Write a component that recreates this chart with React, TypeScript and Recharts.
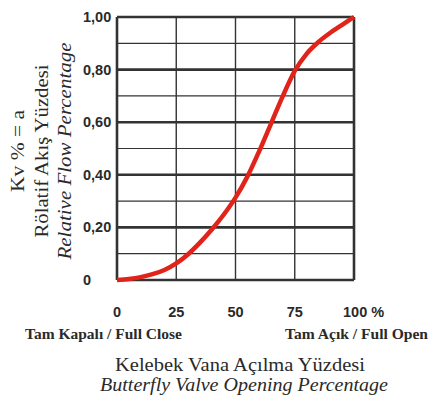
import React from 'react';
import { LineChart, Line, XAxis, YAxis, ReferenceLine } from 'recharts';

const openingPct = [0, 5, 10, 15, 20, 25, 30, 35, 40, 45, 50, 55, 60, 65, 70, 75, 80, 85, 90, 95, 100];
const flowValues = [0, 0.004, 0.011, 0.022, 0.038, 0.063, 0.098, 0.142, 0.192, 0.248, 0.313, 0.393, 0.49, 0.595, 0.7, 0.795, 0.86, 0.905, 0.94, 0.97, 1.0];

const xTicks = [0, 25, 50, 75, 100];
const xTickLabels = ['0', '25', '50', '75', '100 %'];
const yTicks = [0, 0.2, 0.4, 0.6, 0.8, 1.0];
const yTickLabels = ['0', '0,20', '0,40', '0,60', '0,80', '1,00'];
const thinGridY = [0.1, 0.3, 0.5, 0.7, 0.9];
const thickGridY = [0.2, 0.4, 0.6, 0.8];
const gridX = [25, 50, 75];
const frameX = [0, 100];
const frameY = [0, 1];

const yTitleLines = ['Kv % = a', 'Rölatif Akış Yüzdesi', 'Relative Flow Percentage'];
const closeLabel = 'Tam Kapalı / Full Close';
const openLabel = 'Tam Açık / Full Open';
const xTitle = 'Kelebek Vana Açılma Yüzdesi';
const xTitleEn = 'Butterfly Valve Opening Percentage';

const data = openingPct.map((p, i) => ({ pct: p, flow: flowValues[i] }));

const TEXT = '#2a2a2a';
const GRID = '#333333';
const SANS = '"Liberation Sans", Arial, sans-serif';
const SERIF = '"Liberation Serif", "Times New Roman", serif';

const YTick = (props: any) => {
  const { x, y, payload } = props;
  const idx = yTicks.indexOf(payload.value);
  return (
    <text x={x - 34} y={y} dy={5} textAnchor="start" fontFamily={SANS} fontWeight="bold" fontSize={14.5} fill={TEXT}>
      {yTickLabels[idx]}
    </text>
  );
};

const XTick = (props: any) => {
  const { x, y, payload } = props;
  const idx = xTicks.indexOf(payload.value);
  const isLast = idx === xTicks.length - 1;
  return (
    <text x={isLast ? x - 11 : x} y={y + 37} textAnchor={isLast ? 'start' : 'middle'} fontFamily={SANS} fontWeight="bold" fontSize={14.5} fill={TEXT}>
      {xTickLabels[idx]}
    </text>
  );
};

const yTitleX = [17, 41, 64];
const yTitleLen = [82, 173, 217];

export default function App() {
  return (
    <div style={{ position: 'absolute', left: 0, top: 0, width: 430, height: 404, background: '#fff' }}>
      <LineChart width={430} height={404} data={data} margin={{ top: 17, right: 76, bottom: 84, left: 77 }}>
        <XAxis dataKey="pct" type="number" domain={[0, 100]} ticks={xTicks} tick={<XTick />} tickLine={false} axisLine={false} tickSize={0} tickMargin={0} height={40} interval={0} />
        <YAxis type="number" domain={[0, 1]} ticks={yTicks} tick={<YTick />} tickLine={false} axisLine={false} tickSize={0} tickMargin={0} width={40} interval={0} />
        {thinGridY.map((v) => (
          <ReferenceLine key={'ty' + v} y={v} stroke={GRID} strokeWidth={1.2} ifOverflow="visible" />
        ))}
        {gridX.map((v) => (
          <ReferenceLine key={'gx' + v} x={v} stroke={GRID} strokeWidth={1.4} ifOverflow="visible" />
        ))}
        {thickGridY.map((v) => (
          <ReferenceLine key={'ky' + v} y={v} stroke={GRID} strokeWidth={2.6} ifOverflow="visible" />
        ))}
        {frameX.map((v) => (
          <ReferenceLine key={'fx' + v} x={v} stroke={GRID} strokeWidth={2.6} ifOverflow="visible" />
        ))}
        {frameY.map((v) => (
          <ReferenceLine key={'fy' + v} y={v} stroke={GRID} strokeWidth={2.6} ifOverflow="visible" />
        ))}
        <Line type="monotone" dataKey="flow" stroke="#e2231a" strokeWidth={4.5} dot={false} isAnimationActive={false} />
      </LineChart>
      <svg width={430} height={404} style={{ position: 'absolute', left: 0, top: 0, pointerEvents: 'none' }}>
        {yTitleLines.map((t, i) => (
          <text key={t} x={0} y={0} transform={`translate(${yTitleX[i]},151) rotate(-90)`} textAnchor="middle" dominantBaseline="central" fontFamily={SERIF} fontSize={19.5} fontStyle={i === 2 ? 'italic' : 'normal'} fill={TEXT} textLength={yTitleLen[i]} lengthAdjust="spacingAndGlyphs">
            {t}
          </text>
        ))}
        <text x={25} y={339} textAnchor="start" fontFamily={SERIF} fontWeight="bold" fontSize={15} fill={TEXT} textLength={157} lengthAdjust="spacingAndGlyphs">{closeLabel}</text>
        <text x={285} y={339} textAnchor="start" fontFamily={SERIF} fontWeight="bold" fontSize={15} fill={TEXT} textLength={143} lengthAdjust="spacingAndGlyphs">{openLabel}</text>
        <text x={115} y={371} textAnchor="start" fontFamily={SERIF} fontSize={19} fill={TEXT} textLength={250} lengthAdjust="spacingAndGlyphs">{xTitle}</text>
        <text x={100} y={391} textAnchor="start" fontFamily={SERIF} fontStyle="italic" fontSize={19} fill={TEXT} textLength={288} lengthAdjust="spacingAndGlyphs">{xTitleEn}</text>
      </svg>
    </div>
  );
}
